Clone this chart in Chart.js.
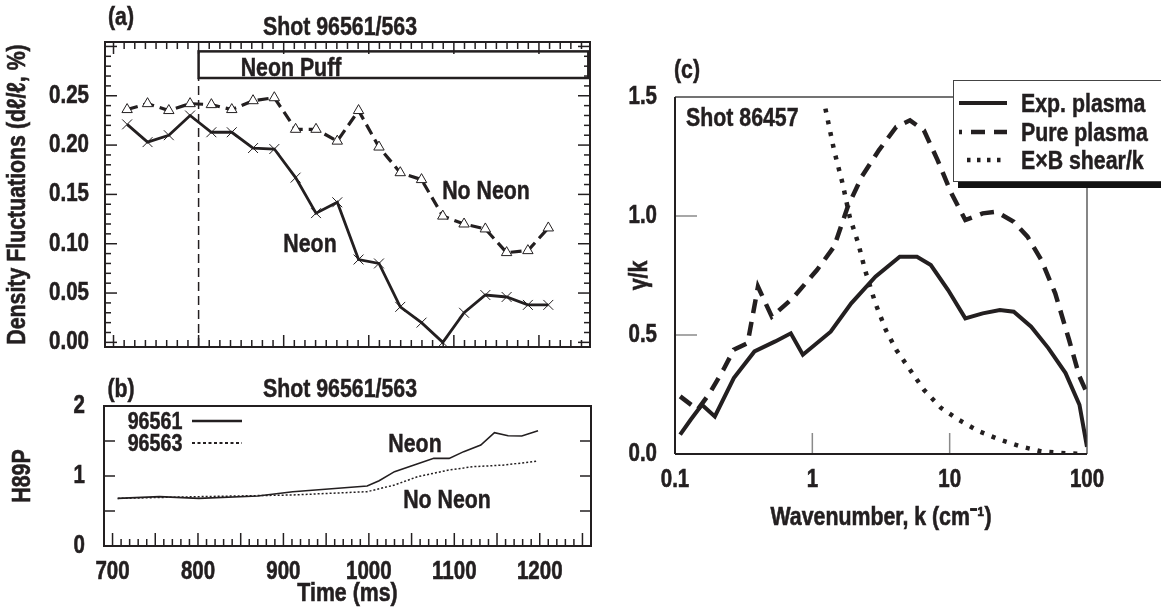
<!DOCTYPE html>
<html>
<head>
<meta charset="utf-8">
<script src="https://cdn.jsdelivr.net/npm/chart.js@4.4.1/dist/chart.umd.min.js"></script>
<style>
  html, body { margin: 0; padding: 0; background: #fff; }
  body {
    width: 1161px; height: 613px; position: relative; overflow: hidden;
    font-family: "Liberation Sans", Arial, sans-serif;
    font-weight: bold; color: #231f20;
  }
  canvas { position: absolute; }
  /* texto "narrow": Liberation Sans comprimido al 82 % */
  .t, .l { position: absolute; white-space: nowrap; font-size: 26px; line-height: 1; -webkit-text-stroke: 0.5px #231f20; }
  .t { transform: translate(-50%, -50%) scaleX(0.82); }
  .l { transform-origin: 0 50%; transform: translateY(-50%) scaleX(0.82); }
  #legC {
    position: absolute; left: 953px; top: 80px; width: 240px; height: 100px;
    border: 1.5px solid #444; background: #fff; box-shadow: 5px 6px 0 #111;
  }
  svg { position: absolute; overflow: visible; }
</style>
</head>
<body>
<canvas id="chartA" width="600" height="370" style="left:0;top:0"></canvas>
<canvas id="chartB" width="600" height="233" style="left:0;top:380px"></canvas>
<canvas id="chartC" width="561" height="613" style="left:600px;top:0"></canvas>

<!-- panel (a) -->
<div class="t" style="left:121px;top:16px">(a)</div>
<div class="t" style="left:340px;top:26px">Shot 96561/563</div>
<div class="t" style="left:291px;top:67px">Neon Puff</div>
<div class="t" style="left:486px;top:190px">No Neon</div>
<div class="t" style="left:310px;top:243px">Neon</div>

<!-- panel (b) -->
<div class="t" style="left:121px;top:388px">(b)</div>
<div class="t" style="left:340px;top:388px">Shot 96561/563</div>
<div id="legB"></div>
<div class="t" style="left:415px;top:443px">Neon</div>
<div class="t" style="left:447px;top:499px">No Neon</div>

<!-- panel (c) -->
<div class="t" style="left:687px;top:69px">(c)</div>
<div class="l" style="left:686px;top:117px">Shot 86457</div>
<div id="legC"></div>

<script>
// --- Datos panel (a): fluctuaciones de densidad vs tiempo ---
const timesA = [716, 740, 765, 790, 815, 839, 864, 889, 914, 938, 963, 988, 1012, 1037, 1062, 1087, 1112, 1137, 1162, 1187, 1211];
const neonA = [0.221, 0.203, 0.210, 0.230, 0.213, 0.213, 0.197, 0.196, 0.167, 0.131, 0.142, 0.084, 0.080, 0.036, 0.020, 0.000, 0.030, 0.048, 0.046, 0.038, 0.038];
const noNeonA = [0.236, 0.242, 0.235, 0.242, 0.241, 0.236, 0.245, 0.248, 0.216, 0.216, 0.204, 0.235, 0.198, 0.172, 0.165, 0.128, 0.120, 0.115, 0.091, 0.093, 0.116];
const puffStart = 800, puffEnd = 1258, puffLow = 0.268, puffHigh = 0.295;

// --- Datos panel (b): H89P ---
const shotsB = ['96561', '96563'];
const tNeonB = [706, 755, 801, 870, 911, 998, 1012, 1030, 1053, 1076, 1094, 1111, 1131, 1147, 1163, 1179, 1198];
const hNeonB = [0.68, 0.705, 0.68, 0.714, 0.776, 0.857, 0.933, 1.062, 1.157, 1.252, 1.252, 1.348, 1.443, 1.619, 1.576, 1.571, 1.648];
const tNoNeonB = [706, 801, 911, 998, 1030, 1057, 1094, 1122, 1159, 1198];
const hNoNeonB = [0.68, 0.705, 0.729, 0.776, 0.871, 0.990, 1.086, 1.133, 1.157, 1.214];

// --- Datos panel (c): gamma/k vs k ---
const seriesC = ['Exp. plasma', 'Pure plasma', 'E\u00d7B shear/k'];
const kExp = [0.109, 0.130, 0.157, 0.195, 0.268, 0.379, 0.537, 0.697, 0.853, 1.36, 1.92, 2.88, 4.33, 5.78, 7.29, 9.74, 13.0, 17.4, 23.2, 29.3, 39.2, 52.3, 69.8, 88.1, 100];
const gExp = [0.081, 0.144, 0.207, 0.158, 0.319, 0.431, 0.473, 0.507, 0.417, 0.514, 0.633, 0.745, 0.829, 0.829, 0.794, 0.689, 0.570, 0.591, 0.605, 0.598, 0.535, 0.445, 0.340, 0.207, 0.03];
const kPure = [0.109, 0.146, 0.179, 0.225, 0.268, 0.338, 0.402, 0.507, 0.718, 1.08, 1.44, 1.81, 2.29, 3.05, 4.08, 5.14, 6.49, 8.18, 10.3, 13.0, 17.4, 21.9, 29.3, 36.9, 46.5, 58.7, 74.0, 88.1, 100];
const gPure = [0.242, 0.186, 0.256, 0.354, 0.438, 0.466, 0.703, 0.577, 0.654, 0.773, 0.871, 1.039, 1.165, 1.276, 1.374, 1.402, 1.360, 1.234, 1.095, 0.983, 1.011, 1.018, 0.976, 0.913, 0.815, 0.675, 0.480, 0.326, 0.256];
const kExb = [1.245, 1.44, 1.66, 1.87, 2.16, 2.42, 2.88, 3.43, 4.08, 5.14, 6.49, 8.67, 11.6, 16.4, 23.2, 32.9, 46.5, 69.8, 93];
const gExb = [1.451, 1.276, 1.137, 0.997, 0.885, 0.773, 0.633, 0.521, 0.438, 0.354, 0.270, 0.193, 0.144, 0.095, 0.060, 0.032, 0.011, 0.003, 0.0];
const kTicks = [0.1, 1, 10, 100];

// --- Estilo comun ---
const ink = '#231f20';
Chart.defaults.font.family = '"Liberation Sans", Arial, sans-serif';
Chart.defaults.font.weight = 'bold';
Chart.defaults.color = ink;
Chart.defaults.animation = false;
Chart.defaults.plugins.legend.display = false;
Chart.defaults.plugins.tooltip.enabled = false;

// el original usa Helvetica Narrow: comprimimos el texto del canvas en x (y lo engrosamos un poco)
Chart.register({
  id: 'narrowText',
  beforeDraw(c) {
    const ctx = c.ctx;
    if (ctx._narrow) return;
    const fill = ctx.fillText.bind(ctx);
    const stroke = ctx.strokeText.bind(ctx);
    ctx.fillText = (txt, x, y) => {
      ctx.save();
      ctx.translate(x, y);
      ctx.scale(0.82, 1);
      fill(txt, 0, 0);
      ctx.strokeStyle = ctx.fillStyle;
      ctx.lineWidth = 0.6;
      stroke(txt, 0, 0);
      ctx.restore();
    };
    ctx._narrow = true;
  }
});

const pts = (xs, ys) => xs.map((x, i) => ({ x, y: ys[i] }));
const isStep = (v, base, step) => Math.abs((v - base) / step - Math.round((v - base) / step)) < 1e-6;
const noGrid = { display: false };
const noBorder = { display: false };

function tick(ctx, x0, y0, x1, y1) {
  ctx.beginPath(); ctx.moveTo(x0, y0); ctx.lineTo(x1, y1); ctx.stroke();
}

// --- Panel (a) ---
const panelA = {
  id: 'panelA',
  beforeDatasetsDraw(c) {
    const { ctx, chartArea: a, scales: { x, y } } = c;
    const x0 = x.getPixelForValue(puffStart), x1 = x.getPixelForValue(puffEnd);
    const y0 = y.getPixelForValue(puffHigh), y1 = y.getPixelForValue(puffLow);
    ctx.save();
    ctx.strokeStyle = ink;
    ctx.lineWidth = 2.5;
    ctx.strokeRect(x0, y0, x1 - x0, y1 - y0);
    ctx.setLineDash([9, 5]);
    ctx.lineWidth = 1.5;
    tick(ctx, x0, a.bottom, x0, y1);
    ctx.restore();
  },
  afterDraw(c) {
    const { ctx, chartArea: a, scales: { x, y } } = c;
    ctx.save();
    ctx.strokeStyle = ink;
    ctx.lineWidth = 1.5;
    y.ticks.forEach(t => {
      if (!isStep(t.value, 0, 0.01)) return;
      const py = y.getPixelForValue(t.value);
      const len = isStep(t.value, 0, 0.05) ? 12 : 6;
      tick(ctx, a.left, py, a.left + len, py);
      tick(ctx, a.right, py, a.right - len, py);
    });
    x.ticks.forEach(t => {
      if (!isStep(t.value, 700, 12.5)) return;
      const px = x.getPixelForValue(t.value);
      const len = isStep(t.value, 700, 100) ? 12 : 7;
      tick(ctx, px, a.bottom, px, a.bottom - len);
      tick(ctx, px, a.top, px, a.top + len);
    });
    ctx.lineWidth = 2;
    ctx.strokeRect(a.left, a.top, a.right - a.left, a.bottom - a.top);
    ctx.restore();
  }
};

new Chart(document.getElementById('chartA'), {
  type: 'line',
  data: {
    datasets: [
      {
        label: 'Neon',
        data: pts(timesA, neonA),
        borderColor: ink, borderWidth: 2.8,
        pointStyle: 'crossRot', pointRadius: 7, pointBorderWidth: 1,
        pointBorderColor: ink, pointBackgroundColor: ink
      },
      {
        label: 'No Neon',
        data: pts(timesA, noNeonA),
        borderColor: ink, borderWidth: 3.2, borderDash: [11, 6],
        pointStyle: 'triangle', pointRadius: 6, pointBorderWidth: 1,
        pointBorderColor: ink, pointBackgroundColor: '#fff'
      }
    ]
  },
  options: {
    responsive: false,
    layout: { padding: { left: 0, top: 42, right: 10, bottom: 13.5 } },
    scales: {
      x: {
        type: 'linear', min: 690, max: 1260,
        ticks: { display: false, stepSize: 12.5, includeBounds: false },
        grid: noGrid, border: noBorder,
        afterFit: s => { s.height = 0; }
      },
      y: {
        min: -0.0047, max: 0.3045,
        ticks: {
          stepSize: 0.01, autoSkip: false, includeBounds: false, padding: 8, font: { size: 25 },
          callback: v => (isStep(v, 0, 0.05) && v > -0.001 && v < 0.26) ? v.toFixed(2) : ''
        },
        grid: noGrid, border: noBorder,
        title: { display: true, text: 'Density Fluctuations (d\u2113/\u2113, %)', font: { size: 26 }, padding: { top: 2, bottom: 0 } },
        afterFit: s => { s.width = 105; }
      }
    }
  },
  plugins: [panelA]
});

// --- Panel (b) ---
const panelB = {
  id: 'panelB',
  afterDraw(c) {
    const { ctx, chartArea: a, scales: { x, y } } = c;
    ctx.save();
    ctx.strokeStyle = ink;
    ctx.lineWidth = 1.5;
    y.ticks.forEach(t => {
      if (t.value <= 0 || t.value >= 2) return;
      const py = y.getPixelForValue(t.value);
      tick(ctx, a.left, py, a.left + 11, py);
      tick(ctx, a.right, py, a.right - 11, py);
    });
    x.ticks.forEach(t => {
      if (!isStep(t.value, 700, 10)) return;
      const px = x.getPixelForValue(t.value);
      const len = isStep(t.value, 700, 50) ? 13 : 7;
      tick(ctx, px, a.bottom, px, a.bottom - len);
    });
    ctx.lineWidth = 2;
    ctx.strokeRect(a.left, a.top, a.right - a.left, a.bottom - a.top);
    ctx.restore();
  }
};

new Chart(document.getElementById('chartB'), {
  type: 'line',
  data: {
    datasets: [
      { label: shotsB[0], data: pts(tNeonB, hNeonB), borderColor: ink, borderWidth: 1.6, pointRadius: 0 },
      { label: shotsB[1], data: pts(tNoNeonB, hNoNeonB), borderColor: ink, borderWidth: 1.5, borderDash: [2, 2], pointRadius: 0 }
    ]
  },
  options: {
    responsive: false,
    layout: { padding: { left: 0, top: 26, right: 9, bottom: 0 } },
    scales: {
      x: {
        type: 'linear', min: 690, max: 1260,
        ticks: {
          stepSize: 10, autoSkip: false, includeBounds: false, maxRotation: 0, padding: 3, font: { size: 25 },
          callback: v => (isStep(v, 0, 100) && v >= 700 && v <= 1200) ? String(v) : ''
        },
        grid: noGrid, border: noBorder,
        title: { display: true, text: 'Time (ms)', font: { size: 26 }, padding: { top: 0, bottom: 4 } },
        afterFit: s => { s.height = 67; }
      },
      y: {
        min: 0, max: 2,
        ticks: {
          stepSize: 0.5, padding: 11, font: { size: 25 },
          callback: v => isStep(v, 0, 1) ? String(v) : ''
        },
        grid: noGrid, border: noBorder,
        title: { display: true, text: 'H89P', font: { size: 26 }, padding: { top: 7.4, bottom: 0 } },
        afterFit: s => { s.width = 104; }
      }
    }
  },
  plugins: [panelB]
});

// leyenda (b)
const legB = document.getElementById('legB');
const dashB = ['', '3 2.5'];
shotsB.forEach((name, i) => {
  const yc = 421 + i * 22;
  legB.insertAdjacentHTML('beforeend',
    `<div class="t" style="left:155px;top:${yc}px;font-size:24px">${name}</div>` +
    `<svg style="left:192px;top:${yc - 2}px" width="50" height="4"><line x1="0" y1="2" x2="50" y2="2" stroke="${ink}" stroke-width="${i ? 2 : 2.5}" stroke-dasharray="${dashB[i]}"/></svg>`);
});

// --- Panel (c) ---
const panelC = {
  id: 'panelC',
  afterDraw(c) {
    const { ctx, chartArea: a, scales: { x, y } } = c;
    ctx.save();
    ctx.strokeStyle = '#8a8a8a';
    ctx.lineWidth = 1.5;
    [0.5, 1.0].forEach(v => { const py = y.getPixelForValue(v); tick(ctx, a.left, py, a.left + 22, py); });
    [1, 10].forEach(v => { const px = x.getPixelForValue(v); tick(ctx, px, a.bottom, px, a.bottom - 21); });
    ctx.strokeStyle = '#444';
    ctx.lineWidth = 1.3;
    tick(ctx, a.left, a.top, a.right, a.top);
    tick(ctx, a.right, a.top, a.right, a.bottom);
    ctx.strokeStyle = ink;
    ctx.lineWidth = 2;
    tick(ctx, a.left, a.top, a.left, a.bottom);
    tick(ctx, a.left, a.bottom, a.right, a.bottom);
    ctx.restore();
  }
};

const styleC = [
  { borderWidth: 4, borderDash: [] },
  { borderWidth: 4.5, borderDash: [14, 9] },
  { borderWidth: 4.5, borderDash: [4, 8] }
];

new Chart(document.getElementById('chartC'), {
  type: 'line',
  data: {
    datasets: [
      { label: seriesC[0], data: pts(kExp, gExp), borderColor: ink, pointRadius: 0, ...styleC[0] },
      { label: seriesC[1], data: pts(kPure, gPure), borderColor: ink, pointRadius: 0, ...styleC[1] },
      { label: seriesC[2], data: pts(kExb, gExb), borderColor: ink, pointRadius: 0, ...styleC[2] }
    ]
  },
  options: {
    responsive: false,
    layout: { padding: { left: 20, top: 97, right: 74, bottom: 75.4 } },
    scales: {
      x: {
        type: 'logarithmic', min: 0.1, max: 100,
        afterBuildTicks: s => { s.ticks = kTicks.map(v => ({ value: v })); },
        ticks: { autoSkip: false, maxRotation: 0, padding: 3, font: { size: 25 }, callback: v => String(v) },
        grid: noGrid, border: noBorder,
        title: { display: true, text: 'Wavenumber, k (cm\u207b\u00b9)', font: { size: 26 }, padding: { top: 0, bottom: 4 } },
        afterFit: s => { s.height = 83.6; }
      },
      y: {
        min: 0, max: 1.5,
        ticks: { stepSize: 0.5, padding: 10, font: { size: 25 }, callback: v => v.toFixed(1) },
        grid: noGrid, border: noBorder,
        title: { display: true, text: '\u03b3/k', font: { size: 26 }, padding: { top: 4, bottom: 0 } },
        afterFit: s => { s.width = 55; }
      }
    }
  },
  plugins: [panelC]
});

// leyenda (c)
const legC = document.getElementById('legC');
const dashC = ['', '14 9', '3.5 6.5'];
const offC = [0, 11, 0];
seriesC.forEach((name, i) => {
  const yc = 22 + i * 28.5;
  legC.insertAdjacentHTML('beforeend',
    `<svg style="left:5px;top:${yc - 3}px" width="48" height="6"><line x1="${i === 2 ? 8 : 0}" y1="3" x2="48" y2="3" stroke="${ink}" stroke-width="${i ? 4.5 : 4}" stroke-dasharray="${dashC[i]}" stroke-dashoffset="${offC[i]}"/></svg>` +
    `<div class="l" style="left:67px;top:${yc}px">${name}</div>`);
});
</script>
</body>
</html>
